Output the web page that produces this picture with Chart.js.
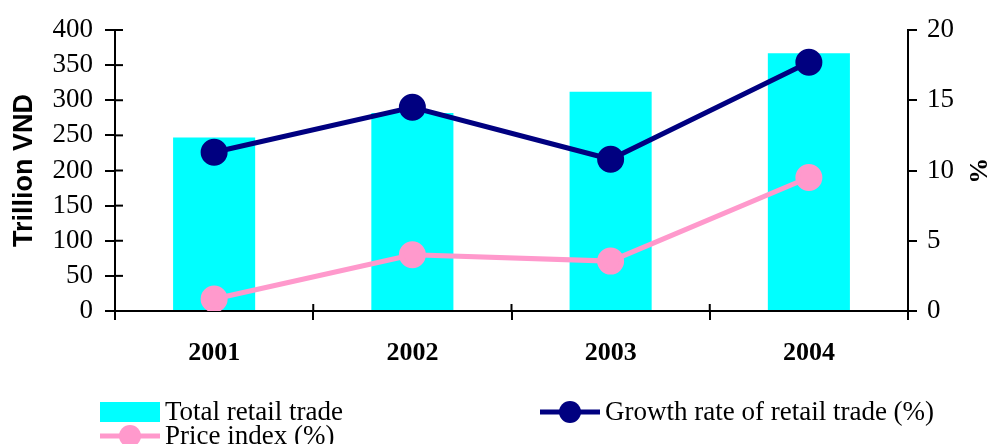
<!DOCTYPE html>
<html>
<head>
<meta charset="utf-8">
<script src="https://cdn.jsdelivr.net/npm/chart.js@4/dist/chart.umd.min.js"></script>
<style>
  html, body { margin: 0; padding: 0; background: #fff; }
  #wrap { width: 990px; height: 444px; }
</style>
</head>
<body>
<div id="wrap"><canvas id="chart" width="990" height="444"></canvas></div>
<script>
/* =================================================================
    Data
================================================================= */

var years = ["2001", "2002", "2003", "2004"];
var retailTrade = [247, 282, 312, 367];      // trillion VND
var growthRate = [11.3, 14.5, 10.8, 17.7];   // %
var priceIndex = [0.85, 4.0, 3.55, 9.5];     // %
var leftTicks = [0, 50, 100, 150, 200, 250, 300, 350, 400];
var rightTicks = [0, 5, 10, 15, 20];

var serif = "'Liberation Serif', 'Times New Roman', serif";
var sans = "'Liberation Sans', Arial, sans-serif";

/* =================================================================
    Small plugin: inner tick stubs + legend at the bottom
================================================================= */

var extras = {
    id: 'extras',
    afterDraw: function (chart) {
        var c = chart.ctx;
        var y = chart.scales.y;
        var area = chart.chartArea;
        c.save();
        c.strokeStyle = '#000';
        c.lineWidth = 2;
        // stubs inside the plot for left axis
        y.ticks.forEach(function (t, i) {
            var py = y.getPixelForTick(i);
            c.beginPath();
            c.moveTo(area.left, py);
            c.lineTo(area.left + 8, py);
            c.stroke();
        });
        // stubs above the x axis
        for (var i = 0; i <= years.length; i++) {
            var px = area.left + (area.right - area.left) * i / years.length;
            c.beginPath();
            c.moveTo(px, area.bottom);
            c.lineTo(px, area.bottom - 7);
            c.stroke();
        }

        // legend
        var ds = chart.data.datasets;
        c.font = "27px " + serif;
        c.textBaseline = 'middle';
        c.textAlign = 'left';

        c.fillStyle = ds[0].backgroundColor;
        c.fillRect(100, 402, 60, 20);
        c.fillStyle = '#000';
        c.fillText(ds[0].label, 165, 413);

        drawLineKey(c, 540, 600, 412, ds[1].borderColor);
        c.fillStyle = '#000';
        c.fillText(ds[1].label, 605, 413);

        drawLineKey(c, 100, 160, 436, ds[2].borderColor);
        c.fillStyle = '#000';
        c.fillText(ds[2].label, 165, 437);
        c.restore();
    }
};

function drawLineKey(c, x1, x2, yy, color) {
    c.strokeStyle = color;
    c.fillStyle = color;
    c.lineWidth = 5;
    c.beginPath();
    c.moveTo(x1, yy);
    c.lineTo(x2, yy);
    c.stroke();
    c.beginPath();
    c.arc((x1 + x2) / 2, yy, 11, 0, Math.PI * 2);
    c.fill();
}

/* =================================================================
    Chart
================================================================= */

var ctx = document.getElementById("chart");

var data = {
    labels: years,
    datasets: [{
        type: 'bar',
        label: 'Total retail trade',
        data: retailTrade,
        backgroundColor: '#00FFFF',
        yAxisID: 'y',
        categoryPercentage: 1,
        barPercentage: 0.414,
        order: 3
    }, {
        type: 'line',
        label: 'Growth rate of retail trade (%)',
        data: growthRate,
        borderColor: '#000080',
        backgroundColor: '#000080',
        borderWidth: 5,
        pointRadius: 11,
        pointHoverRadius: 11,
        yAxisID: 'y1',
        order: 1
    }, {
        type: 'line',
        label: 'Price index (%)',
        data: priceIndex,
        borderColor: '#FF99CC',
        backgroundColor: '#FF99CC',
        borderWidth: 5,
        pointRadius: 11,
        pointHoverRadius: 11,
        yAxisID: 'y1',
        order: 2
    }]
};

var myChart = new Chart(ctx, {
    data: data,
    options: {
        responsive: false,
        animation: false,
        devicePixelRatio: 1,
        layout: { padding: { top: 30, left: 0, right: 0, bottom: 0 } },
        plugins: {
            legend: { display: false },
            tooltip: { enabled: false }
        },
        scales: {
            x: {
                offset: true,
                grid: { display: true, drawOnChartArea: false, offset: true, tickLength: 9, color: '#000', lineWidth: 2 },
                border: { color: '#000', width: 2 },
                ticks: { color: '#000', font: { family: serif, size: 26, weight: 'bold' }, padding: 18 },
                afterFit: function (s) { s.height = 133; }
            },
            y: {
                position: 'left',
                min: 0,
                max: 400,
                afterBuildTicks: function (s) { s.ticks = leftTicks.map(function (v) { return { value: v }; }); },
                grid: { drawOnChartArea: false, tickLength: 10, color: '#000', lineWidth: 2 },
                border: { color: '#000', width: 2 },
                ticks: { color: '#000', font: { family: serif, size: 27, lineHeight: 1 }, padding: 12, autoSkip: false },
                title: { display: true, text: 'Trillion VND', color: '#000', font: { family: sans, size: 27, weight: 'bold', lineHeight: 1 }, padding: { top: 11 } },
                afterFit: function (s) { s.width = 115; }
            },
            y1: {
                position: 'right',
                min: 0,
                max: 20,
                afterBuildTicks: function (s) { s.ticks = rightTicks.map(function (v) { return { value: v }; }); },
                grid: { drawOnChartArea: false, tickLength: 9, color: '#000', lineWidth: 2 },
                border: { color: '#000', width: 2 },
                ticks: { color: '#000', font: { family: serif, size: 27, lineHeight: 1 }, padding: 10, autoSkip: false },
                title: { display: true, text: '%', color: '#000', font: { family: serif, size: 26, weight: 'bold', lineHeight: 1 }, padding: { top: 0 } },
                afterFit: function (s) { s.width = 82; }
            }
        }
    },
    plugins: [extras]
});
</script>
</body>
</html>
